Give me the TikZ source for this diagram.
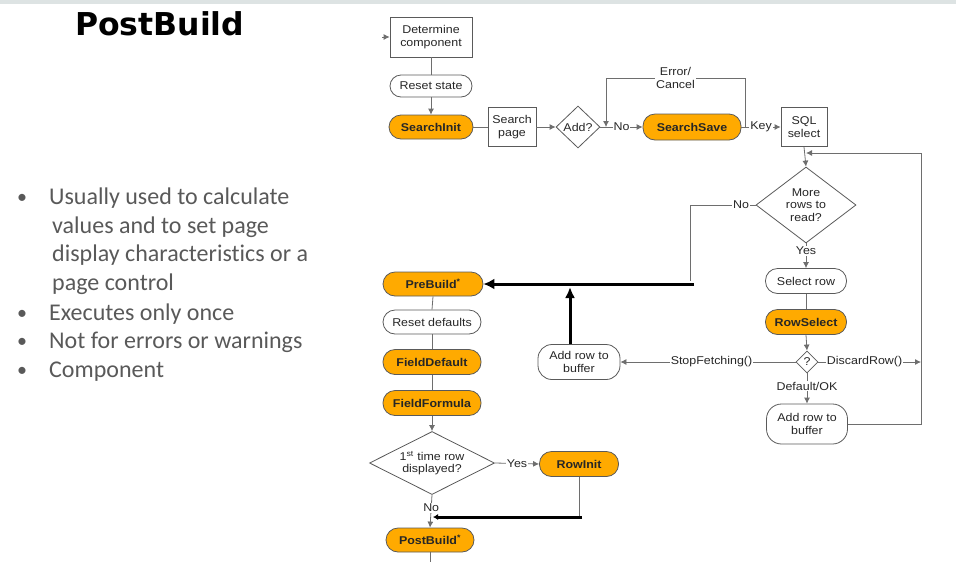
\documentclass[tikz,border=0pt]{standalone}
\usepackage{fontspec}
\setmainfont{Liberation Sans}
\newfontfamily\boxfont[FakeStretch=1.1]{Liberation Sans}
\newfontfamily\titlefont{DejaVu Sans}
\newfontfamily\bulletfont[Ligatures=NoCommon]{Carlito}
\usetikzlibrary{shapes.geometric,arrows.meta}
\definecolor{pborange}{RGB}{255,170,0}
\definecolor{lineg}{RGB}{110,110,110}
\definecolor{edgeg}{RGB}{90,90,90}
\definecolor{bulletg}{RGB}{89,89,89}
\definecolor{topbar}{RGB}{221,227,227}
\begin{document}
\begin{tikzpicture}[x=1pt,y=-1pt,
  boxtxt/.style={font=\boxfont\fontsize{11.3}{12.5}\selectfont},
  flow/.style={boxtxt, draw=edgeg, line width=0.8pt, text=black!85, align=center, inner sep=0pt},
  sqbox/.style={flow, rectangle, fill=white},
  pill/.style={flow, rounded corners=12pt, fill=white},
  opill/.style={pill, fill=pborange, font=\boxfont\bfseries\fontsize{11.3}{12.5}\selectfont},
  dia/.style={flow, diamond, fill=white},
  ln/.style={draw=lineg, line width=0.8pt},
  arr/.style={ln, -{Latex[length=6pt,width=6pt]}},
  lab/.style={boxtxt, fill=white, inner sep=1pt, text=black!85, align=center},
  thk/.style={draw=black, line width=3pt},
  bul/.style={anchor=base west, inner sep=0pt, text=bulletg, font=\bulletfont\fontsize{24}{29}\selectfont},
  dot/.style={anchor=base, inner sep=0pt, text=bulletg, font=\bulletfont\fontsize{20}{29}\selectfont}
]
\useasboundingbox (0,0) rectangle (956,582);
\fill[topbar] (0,0) rectangle (956,3.5);

% title
\node[anchor=base west, inner sep=0pt, font=\titlefont\bfseries\fontsize{31.5}{36}\selectfont] (title) at (75,35) {PostBuild};

% bullets
\node[dot] (d1) at (22,203) {•};
\node[bul] (b1) at (49,204) {Usually used to calculate};
\node[bul] (b1b) at (52,233) {values and to set page};
\node[bul] (b1c) at (52,261) {display characteristics or a};
\node[bul] (b1d) at (52,290) {page control};
\node[dot] (d2) at (22,319) {•};
\node[bul] (b2) at (49,320) {Executes only once};
\node[dot] (d3) at (22,347) {•};
\node[bul] (b3) at (49,348) {Not for errors or warnings};
\node[dot] (d4) at (22,376) {•};
\node[bul] (b4) at (49,377) {Component};

% flow nodes
\node[sqbox, minimum width=82, minimum height=40] (det) at (431,37) {Determine\\component};
\node[pill, minimum width=82, minimum height=22, rounded corners=11pt] (reset) at (431,86) {Reset state};
\node[opill, minimum width=84, minimum height=24] (sinit) at (431,127) {SearchInit};
\node[sqbox, minimum width=48, minimum height=39] (spage) at (512,127) {Search\\page};
\node[dia, minimum width=44, minimum height=42] (add) at (578,127) {Add?};
\node[opill, minimum width=98, minimum height=26] (ssave) at (692,127) {SearchSave};
\node[sqbox, minimum width=46, minimum height=39] (sql) at (804,127) {SQL\\select};
\node[dia, minimum width=100, minimum height=76] (more) at (806,205) {More\\rows to\\read?};
\node[pill, minimum width=81, minimum height=25] (sel) at (806,281) {Select row};
\node[opill, minimum width=81, minimum height=25] (rowsel) at (806,322) {RowSelect};
\node[dia, minimum width=22, minimum height=22] (q) at (807,362) {?};
\node[pill, minimum width=82, minimum height=35, rounded corners=14pt] (addL) at (579,362) {Add row to\\buffer};
\node[pill, minimum width=81, minimum height=40, rounded corners=15pt] (addR) at (807,424) {Add row to\\buffer};
\node[opill, minimum width=100, minimum height=24] (pre) at (433,284) {PreBuild\textsuperscript{*}};
\node[pill, minimum width=98, minimum height=24] (rdef) at (432,322) {Reset defaults};
\node[opill, minimum width=98, minimum height=25] (fdef) at (432,362) {FieldDefault};
\node[opill, minimum width=98, minimum height=25] (fform) at (432,403) {FieldFormula};
\node[dia, aspect=2, minimum width=125, minimum height=63] (first) at (432,463) {1\textsuperscript{st} time row\\displayed?};
\node[opill, minimum width=79, minimum height=25] (rinit) at (579,464) {RowInit};
\node[opill, minimum width=88, minimum height=24] (post) at (430,540) {PostBuild\textsuperscript{*}};

% helper coordinates
\coordinate (entry) at (382,37);
\coordinate (e1) at (745,127);
\coordinate (e2) at (606,127);
\coordinate (nobend) at (690,205);
\coordinate (nodown) at (690,281);
\coordinate (tk1) at (694,284);
\coordinate (rtop) at (921,153);
\coordinate (rbot) at (921,424);
\coordinate (loopin) at (806,153);
\coordinate (discend) at (921,362);
\coordinate (up1) at (570,344);
\coordinate (up2) at (570,287);
\coordinate (ri1) at (579,517);
\coordinate (tk2a) at (582,517);
\coordinate (tk2b) at (433,517);
\coordinate (postend) at (430,562);

% connectors
\draw[arr] (entry) -- (det.west);
\draw[ln] (det.south) -- (reset.north);
\draw[arr] (reset.south) -- (sinit.north);
\draw[ln] (sinit.east) -- (spage.west);
\draw[arr] (spage.east) -- (add.west);
\draw[arr] (add.east) -- node[lab, pos=0.5]{No} (ssave.west);
\draw[arr] (e1) -- ++(0,-49) -| node[lab, pos=0.25]{Error/\\Cancel} (e2);
\draw[arr] (ssave.east) -- node[lab, pos=0.5]{Key} (sql.west);
\draw[arr] (sql.south) -- (more.north);
\draw[ln] (more.west) -- node[lab, pos=0.22]{No} (nobend) -- (nodown);
\draw[arr] (more.south) -- node[lab, pos=0.3]{Yes} (sel.north);
\draw[ln] (sel.south) -- (rowsel.north);
\draw[arr] (rowsel.south) -- (q.north);
\draw[arr] (q.west) -- node[lab, pos=0.48]{StopFetching()} (addL.east);
\draw[arr] (q.east) -- node[lab, pos=0.45]{DiscardRow()} (discend);
\draw[arr] (q.south) -- node[lab, pos=0.42]{Default/OK} (addR.north);
\draw[arr] (addR.east) -- (rbot) -- (rtop) -- (loopin);
\draw[thk, -{Latex[length=11pt,width=11pt]}] (tk1) -- (pre.east);
\draw[thk, -{Latex[length=11pt,width=10pt]}] (up1) -- (up2);
\draw[ln] (pre.south) -- (rdef.north);
\draw[ln] (rdef.south) -- (fdef.north);
\draw[ln] (fdef.south) -- (fform.north);
\draw[arr] (fform.south) -- (first.north);
\draw[arr] (first.east) -- node[lab, pos=0.5]{Yes} (rinit.west);
\draw[ln] (rinit.south) -- (ri1);
\draw[thk, -{Latex[length=5pt,width=6pt]}] (tk2a) -- (tk2b);
\draw[arr] (first.south) -- node[lab, pos=0.4]{No} (post.north);
\draw[ln] (post.south) -- (postend);
\end{tikzpicture}
\end{document}
